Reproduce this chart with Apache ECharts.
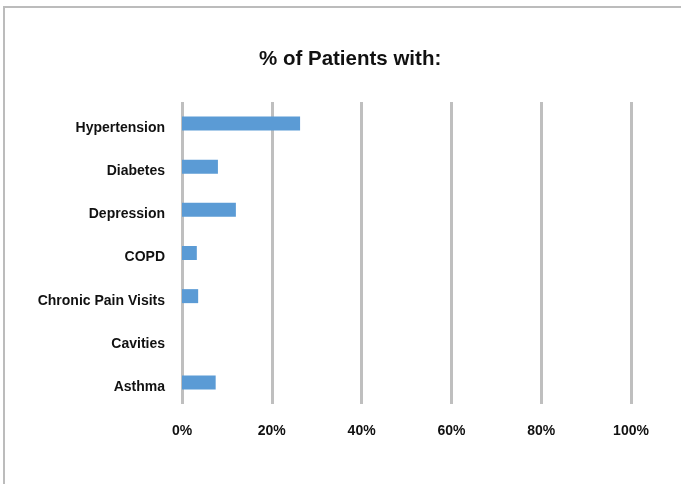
<!DOCTYPE html>
<html>
<head>
<meta charset="utf-8">
<style>
  html, body { margin: 0; padding: 0; background: #ffffff; }
  #chart { width: 681px; height: 484px; }
</style>
<script src="https://cdn.jsdelivr.net/npm/echarts@6/dist/echarts.min.js"></script>
</head>
<body>
<div id="chart"></div>
<script>
// Conditions, listed top to bottom
const conditions = ['Hypertension', 'Diabetes', 'Depression', 'COPD', 'Chronic Pain Visits', 'Cavities', 'Asthma'];
// Share of patients with each condition, in percent
const patientShare = [26.3, 8.0, 12.0, 3.3, 3.6, 0, 7.5];
// Percent axis ticks
const percentTicks = [0, 20, 40, 60, 80, 100];

const chart = echarts.init(document.getElementById('chart'), null, { renderer: 'canvas' });
const fontFamily = '"Liberation Sans", Arial, sans-serif';

chart.setOption({
  backgroundColor: '#ffffff',
  animation: false,
  graphic: [{
    type: 'rect',
    shape: { x: 4, y: 7, width: 700, height: 500 },
    style: { fill: 'none', stroke: '#bcbcbc', lineWidth: 2 },
    silent: true
  }],
  title: {
    text: '% of Patients with:',
    left: 254,
    top: 44,
    textStyle: { fontFamily, fontSize: 20.5, fontWeight: 'bold', color: '#111111' }
  },
  grid: { left: 182, right: 50, top: 102, bottom: 80 },
  xAxis: {
    type: 'value',
    min: percentTicks[0],
    max: percentTicks[percentTicks.length - 1],
    interval: percentTicks[1] - percentTicks[0],
    axisLine: { show: false },
    axisTick: { show: false },
    axisLabel: {
      formatter: '{value}%',
      margin: 20,
      fontFamily, fontSize: 14, fontWeight: 'bold', color: '#111111'
    },
    splitLine: { show: true, lineStyle: { color: '#bfbfbf', width: 3 } }
  },
  yAxis: {
    type: 'category',
    data: conditions,
    inverse: true,
    axisLine: { show: false },
    axisTick: { show: false },
    splitLine: { show: false },
    axisLabel: {
      margin: 17,
      formatter: '{name|{value}}',
      rich: {
        name: {
          padding: [9, 0, 0, 0],
          fontFamily, fontSize: 14, fontWeight: 'bold', color: '#111111'
        }
      },
      fontFamily, fontSize: 14, fontWeight: 'bold', color: '#111111'
    }
  },
  series: [{
    type: 'bar',
    data: patientShare,
    barWidth: 14,
    itemStyle: { color: '#5b9bd5' }
  }]
});
</script>
</body>
</html>
